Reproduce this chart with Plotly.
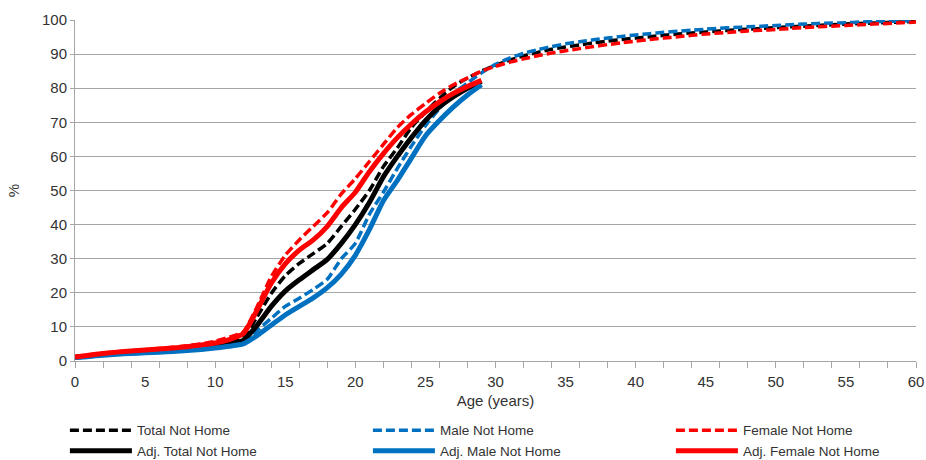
import plotly.graph_objects as go

# Ages (years)
ages_full = list(range(0, 61))
ages_adj = list(range(0, 30))

total_not_home = [1.2, 1.6, 2.1, 2.5, 2.8, 3.0, 3.3, 3.6, 4.0, 4.4,
                  5.0, 5.8, 7.0, 13.0, 19.8, 25.0, 28.6, 31.5, 34.5, 39.5,
                  44.5, 50.0, 57.0, 62.5, 68.5, 73.0, 77.0, 80.5, 83.0, 85.0,
                  86.7, 88.2, 89.5, 90.5, 91.4, 92.1, 92.7, 93.3, 93.8, 94.3,
                  94.7, 95.1, 95.5, 95.9, 96.2, 96.5, 96.8, 97.1, 97.3, 97.5,
                  97.8, 98.0, 98.2, 98.4, 98.6, 98.8, 99.0, 99.1, 99.3, 99.4, 99.6]
male_not_home = [1.0, 1.4, 1.8, 2.1, 2.4, 2.6, 2.8, 3.0, 3.3, 3.7,
                 4.2, 4.8, 5.5, 9.0, 12.5, 16.0, 18.4, 21.0, 24.0, 30.0,
                 34.5, 43.0, 49.5, 56.5, 63.0, 69.0, 74.0, 78.5, 81.5, 84.5,
                 87.0, 88.8, 90.2, 91.3, 92.2, 93.0, 93.6, 94.2, 94.7, 95.2,
                 95.6, 96.0, 96.4, 96.7, 97.0, 97.3, 97.6, 97.8, 98.0, 98.2,
                 98.4, 98.6, 98.8, 99.0, 99.1, 99.2, 99.4, 99.5, 99.6, 99.7, 99.8]
female_not_home = [1.3, 1.8, 2.3, 2.7, 3.0, 3.3, 3.7, 4.0, 4.5, 5.0,
                   5.8, 7.0, 8.5, 16.0, 24.7, 31.0, 35.5, 39.5, 43.5, 49.0,
                   53.5, 58.5, 63.5, 68.5, 72.3, 75.5, 78.5, 81.0, 83.0, 85.0,
                   86.4, 87.6, 88.6, 89.5, 90.3, 91.0, 91.6, 92.2, 92.8, 93.3,
                   93.8, 94.3, 94.7, 95.1, 95.5, 95.9, 96.2, 96.5, 96.8, 97.0,
                   97.2, 97.5, 97.8, 98.0, 98.2, 98.4, 98.6, 98.8, 99.0, 99.2, 99.4]

adj_total_not_home = [1.1, 1.5, 2.0, 2.3, 2.6, 2.8, 3.0, 3.3, 3.6, 4.0,
                      4.5, 5.2, 6.0, 10.5, 16.0, 20.5, 23.8, 26.8, 29.8, 34.5,
                      40.0, 46.5, 54.0, 60.0, 65.5, 70.5, 74.5, 77.5, 80.0, 82.0]
adj_male_not_home = [1.0, 1.3, 1.7, 2.0, 2.2, 2.4, 2.6, 2.8, 3.1, 3.4,
                     3.8, 4.3, 5.0, 7.5, 10.5, 13.5, 16.0, 18.5, 21.5, 25.5,
                     31.0, 38.5, 47.0, 53.0, 59.5, 66.0, 70.5, 74.5, 78.0, 81.0]
adj_female_not_home = [1.2, 1.7, 2.2, 2.6, 2.9, 3.2, 3.5, 3.8, 4.2, 4.7,
                       5.3, 6.3, 8.0, 15.0, 22.8, 28.5, 32.5, 35.5, 39.5, 45.0,
                       49.5, 55.5, 60.8, 65.5, 69.5, 73.0, 76.0, 78.5, 80.5, 82.3]

x_tick_vals = list(range(0, 61, 5))
x_minor_ticks = list(range(0, 61, 2))
y_tick_vals = list(range(0, 101, 10))

BLACK = "#000000"
BLUE = "#0070C0"
RED = "#FF0000"
GRID = "#A6A6A6"
FONT = "Liberation Sans, Arial, sans-serif"

fig = go.Figure()
series = [
    ("Total Not Home", ages_full, total_not_home, BLACK, "dash", "x"),
    ("Male Not Home", ages_full, male_not_home, BLUE, "dash", "x"),
    ("Female Not Home", ages_full, female_not_home, RED, "dash", "x"),
    ("Adj. Total Not Home", ages_adj, adj_total_not_home, BLACK, "solid", "x"),
    ("Adj. Male Not Home", ages_adj, adj_male_not_home, BLUE, "solid", "x"),
    ("Adj. Female Not Home", ages_adj, adj_female_not_home, RED, "solid", "x2"),
]
for name, xs, ys, col, style, xa in series:
    fig.add_trace(go.Scatter(
        x=xs, y=ys, name=name, mode="lines", xaxis=xa, yaxis="y",
        line=dict(color=col, width=3.5 if style == "dash" else 5,
                  dash="9px,4px" if style == "dash" else "solid",
                  shape="spline", smoothing=0.6),
    ))

fig.update_layout(
    width=926, height=460, autosize=False,
    margin=dict(l=75, r=10, t=20, b=99, autoexpand=False),
    plot_bgcolor="white", paper_bgcolor="white",
    font=dict(family=FONT, size=15, color="#333333"),
    showlegend=True,
    legend=dict(orientation="h", x=-0.012, xanchor="left", y=-0.158, yanchor="top",
                entrywidth=226, entrywidthmode="pixels", traceorder="normal",
                font=dict(size=13.5, color="#333333"), itemwidth=62,
                bgcolor="rgba(0,0,0,0)", tracegroupgap=0),
    xaxis=dict(range=[0, 60], tickvals=x_tick_vals, ticks="", showgrid=False,
               showline=True, linecolor=GRID, linewidth=1, zeroline=False,
               ticklabelstandoff=7,
               title=dict(text="Age (years)", standoff=6, font=dict(size=15))),
    xaxis2=dict(range=[0, 60], matches="x", overlaying="x", anchor="y", side="bottom",
                tickvals=x_minor_ticks, ticks="outside", ticklen=6, tickcolor=GRID,
                showticklabels=False, showgrid=False, showline=False, zeroline=False),
    yaxis=dict(range=[0, 100], tickvals=y_tick_vals, ticks="outside", ticklen=4,
               tickcolor=GRID, showgrid=True, gridcolor=GRID, gridwidth=1,
               showline=True, linecolor=GRID, linewidth=1, zeroline=False,
               title=dict(text="%", standoff=18, font=dict(size=15))),
)

fig.write_html("out.html")
